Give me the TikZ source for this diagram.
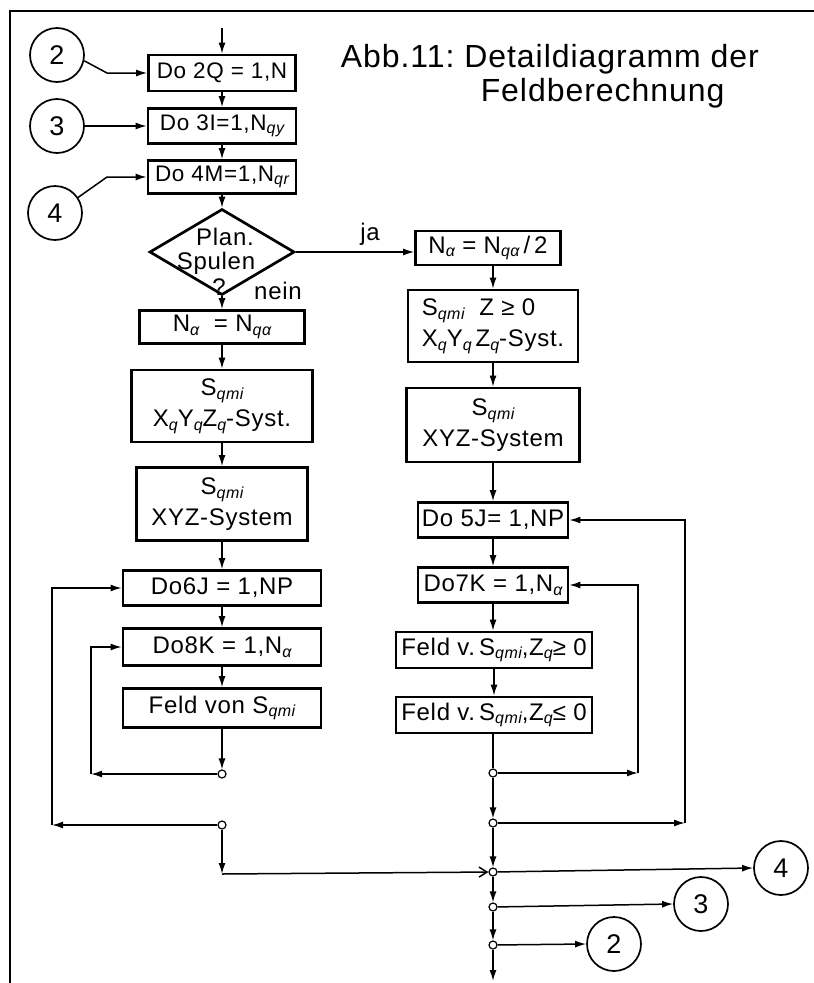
\documentclass[tikz,border=0pt]{standalone}
\usepackage{fontspec}
\setmainfont{Liberation Sans}[LetterSpace=3]
\usetikzlibrary{shapes.geometric,arrows.meta}
\newcommand{\lsub}[1]{\raisebox{-0.3ex}{\fontsize{16}{16}\selectfont\itshape #1}}
\frenchspacing
\begin{document}
\begin{tikzpicture}[x=1pt,y=-1pt, line width=1.5pt,
  >={Latex[length=11pt,width=7pt]},
  box/.style={draw, line width=2.7pt, inner sep=0pt, font=\fontsize{24}{31}\selectfont, align=center},
  topbox/.style={box, font=\fontsize{22.5}{26}\selectfont},
  conn/.style={circle, draw, line width=1.7pt, minimum size=54pt, inner sep=0pt, font=\fontsize{27}{27}\selectfont},
  junc/.style={circle, draw, fill=white, line width=1.2pt, minimum size=8pt, inner sep=0pt},
  lbl/.style={font=\fontsize{24}{24}\selectfont, inner sep=0pt},
  ttl/.style={font=\fontsize{32}{32}\selectfont, inner sep=0pt}
]
\useasboundingbox (0,0) rectangle (814,983);
% frame
\draw[line width=2pt] (814,11) -- (10,11) -- (10,983);
% title
\node[ttl, anchor=base west] (t1) at (340,67) {Abb.11: Detaildiagramm der};
\node[ttl, anchor=base west] (t2) at (480,101) {Feldberechnung};

% left column
\coordinate (start) at (222,28);
\node[topbox, minimum width=147pt, minimum height=36pt] (b1) at (222,73) {Do 2Q = 1,N};
\node[topbox, minimum width=148pt, minimum height=35pt] (b2) at (222,126) {Do 3I=1,N\lsub{qy}};
\node[topbox, minimum width=148pt, minimum height=33pt] (b3) at (222,177) {Do 4M=1,N\lsub{qr}};
\node[diamond, draw, line width=2.7pt, minimum width=145pt, minimum height=86pt, inner sep=0pt] (d) at (222,252) {};
\node[lbl] (dt1) at (225,237) {Plan.};
\node[lbl] (dt2) at (216,263) {Spulen};
\node[lbl] (dt3) at (219,287) {?};
\node[lbl] (ja) at (370,234) {ja};
\node[lbl] (nein) at (278,291) {nein};
\node[box, minimum width=165pt, minimum height=33pt] (b4) at (222,327) {N\lsub{α}\ \ = N\lsub{qα}};
\node[box, minimum width=181pt, minimum height=72pt] (b5) at (222,406) {S\lsub{qmi}\\X\lsub{q}Y\lsub{q}Z\lsub{q}-Syst.};
\node[box, minimum width=171pt, minimum height=73pt] (b6) at (222,504) {S\lsub{qmi}\\XYZ-System};
\node[box, minimum width=198pt, minimum height=35pt] (b7) at (222,588) {Do6J = 1,NP};
\node[box, minimum width=198pt, minimum height=37pt] (b8) at (222,647) {Do8K = 1,N\lsub{α}};
\node[box, minimum width=198pt, minimum height=39pt] (b9) at (222,708) {Feld von S\lsub{qmi}};
\node[junc] (j1) at (222,774) {};
\node[junc] (j2) at (222,825) {};
\coordinate (k) at (222,874);
\coordinate (l1) at (91,774);
\coordinate (l2) at (52,825);

% entry connectors
\node[conn] (c2) at (57,55) {2};
\node[conn] (c3) at (57,126) {3};
\node[conn] (c4) at (55,213) {4};

% right column
\node[box, minimum width=145pt, minimum height=34pt] (r1) at (488,248) {N\lsub{α}\ = N\lsub{qα}\,/\,2};
\node[box, minimum width=170pt, minimum height=72pt, align=left] (r2) at (493,326) {S\lsub{qmi}\ \ Z ≥ 0\\X\lsub{q}Y\lsub{q}\,Z\lsub{q}-Syst.};
\node[box, minimum width=173pt, minimum height=74pt] (r3) at (493,425) {S\lsub{qmi}\\XYZ-System};
\node[box, minimum width=150pt, minimum height=35pt] (r4) at (493,520) {Do 5J= 1,NP};
\node[box, minimum width=150pt, minimum height=35pt] (r5) at (493,585) {Do7K = 1,N\lsub{α}};
\node[box, minimum width=196pt, minimum height=36pt] (r6) at (494,650) {Feld v.\,S\lsub{qmi},Z\lsub{q}≥ 0};
\node[box, minimum width=196pt, minimum height=36pt] (r7) at (494,715) {Feld v.\,S\lsub{qmi},Z\lsub{q}≤ 0};
\node[junc] (rj1) at (493,773) {};
\node[junc] (rj2) at (493,823) {};
\node[junc] (rj3) at (493,872) {};
\node[junc] (rj4) at (493,907) {};
\node[junc] (rj5) at (493,945) {};
\coordinate (fin) at (493,981);
\coordinate (q1) at (638,773);
\coordinate (q2) at (685,823);
\node[conn] (c4b) at (781,868) {4};
\node[conn] (c3b) at (701,904) {3};
\node[conn] (c2b) at (614,944) {2};

% left flow
\draw[->] (start) -- (b1.north);
\draw[->] (c2.-12) -- (107,73) -- (b1.west);
\draw[->] (c3.east) -- (b2.west);
\draw[->] (c4.34) -- (107,177) -- (b3.west);
\draw[->] (b1.south) -- (b2.north);
\draw[->] (b2.south) -- (b3.north);
\draw[->] (b3.south) -- (d.north);
\draw[->] (d.south) -- (b4.north);
\draw[->] (b4.south) -- (b5.north);
\draw[->] (b5.south) -- (b6.north);
\draw[->] (b6.south) -- (b7.north);
\draw[->] (b7.south) -- (b8.north);
\draw[->] (b8.south) -- (b9.north);
\draw[->] (b9.south) -- (j1);
\draw[->] (j1) -- (l1);
\draw[->] (l1) -- (l1 |- b8.west) -- (b8.west);
\draw[->] (j2) -- (l2);
\draw[->] (l2) -- (l2 |- b7.west) -- (b7.west);
\draw[->] (j2) -- (k);
\draw[-{Straight Barb[length=8pt,width=10pt]}] (k) -- (rj3);

% right flow
\draw[->] (d.east) -- (d.east -| r1.west);
\draw[->] (r1.south -| r2.north) -- (r2.north);
\draw[->] (r2.south) -- (r3.north);
\draw[->] (r3.south) -- (r4.north);
\draw[->] (r4.south) -- (r5.north);
\draw[->] (r5.south) -- (r5.south |- r6.north);
\draw[->] (r6.south) -- (r7.north);
\draw (r7.south -| rj1) -- (rj1);
\draw[->] (rj1) -- (q1);
\draw[->] (q1) -- (q1 |- r5.east) -- (r5.east);
\draw[->] (rj1) -- (rj2);
\draw[->] (rj2) -- (q2);
\draw[->] (q2) -- (q2 |- r4.east) -- (r4.east);
\draw[->] (rj2) -- (rj3);
\draw[->] (rj3) -- (c4b.west);
\draw[->] (rj3) -- (rj4);
\draw[->] (rj4) -- (c3b.west);
\draw[->] (rj4) -- (rj5);
\draw[->] (rj5) -- (c2b.west);
\draw[->] (rj5) -- (fin);
\end{tikzpicture}
\end{document}
